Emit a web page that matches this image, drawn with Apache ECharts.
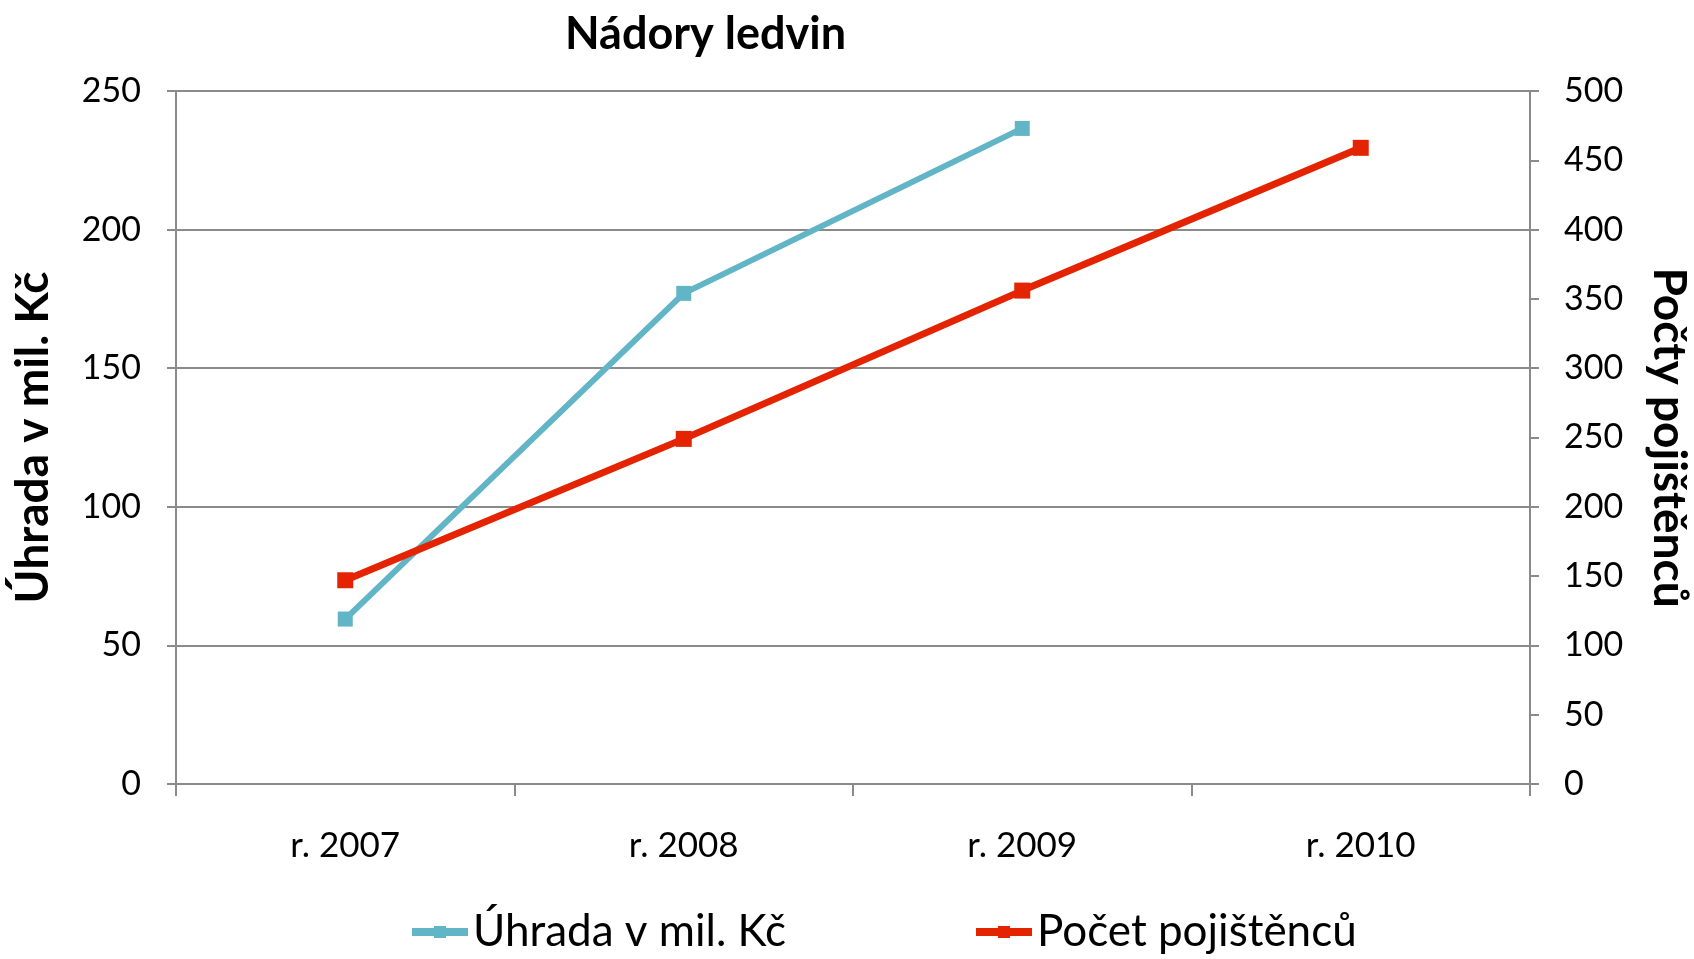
<!DOCTYPE html>
<html>
<head>
<meta charset="utf-8">
<title>Nádory ledvin</title>
<script src="https://cdn.jsdelivr.net/npm/echarts@6.0.0/dist/echarts.min.js"></script>
<style>
  html, body { margin: 0; padding: 0; background: #fff; }
  #chart { width: 1694px; height: 959px; }
</style>
</head>
<body>
<div id="chart"></div>
<script>
  // data
  var years = ["r. 2007", "r. 2008", "r. 2009", "r. 2010"];
  var uhrada = [59.5, 177, 236.5, null];     // mil. Kč, left axis
  var pojistenci = [147, 249, 356, 459];     // right axis
  var leftTicks = [0, 50, 100, 150, 200, 250];
  var rightTicks = [0, 50, 100, 150, 200, 250, 300, 350, 400, 450, 500];

  var FONT = "Lato, 'Open Sans', sans-serif";
  var GRAY = "#8a8a8a";
  var BLUE = "#62b5c6";
  var RED = "#e42400";

  var chart = echarts.init(document.getElementById("chart"));

  var legendBase = {
    top: 910,
    padding: 0,
    itemWidth: 56,
    itemHeight: 15,
    lineStyle: { width: 8 },
    textStyle: { fontFamily: FONT, fontSize: 44, color: "#000" }
  };

  chart.setOption({
    backgroundColor: "#fff",
    animation: false,
    textStyle: { fontFamily: FONT },
    title: {
      text: "Nádory ledvin",
      left: 560,
      top: 7,
      textStyle: { fontFamily: FONT, fontSize: 45, fontWeight: "bold", color: "#000" }
    },
    // two legends so each item sits where it is in the picture
    legend: [
      Object.assign({ data: ["Úhrada v mil. Kč"], left: 408 }, legendBase),
      Object.assign({ data: ["Počet pojištěnců"], left: 972 }, legendBase)
    ],
    grid: {
      left: 176,
      right: 164,
      top: 91,
      bottom: 175,
      outerBoundsMode: "none"
    },
    xAxis: {
      type: "category",
      data: years,
      boundaryGap: true,
      axisLine: { lineStyle: { color: GRAY, width: 2 } },
      axisTick: { show: true, length: 12, lineStyle: { color: GRAY, width: 2 } },
      axisLabel: { margin: 44, fontSize: 35, color: "#000", fontFamily: FONT },
      splitLine: { show: false }
    },
    yAxis: [
      {
        type: "value",
        min: leftTicks[0],
        max: leftTicks[leftTicks.length - 1],
        interval: 50,
        name: "Úhrada v mil. Kč",
        nameLocation: "middle",
        nameGap: 120,
        nameTextStyle: { fontFamily: FONT, fontSize: 46, fontWeight: "bold", color: "#000" },
        axisLine: { show: true, lineStyle: { color: GRAY, width: 2 } },
        axisTick: { show: true, length: 9, lineStyle: { color: GRAY, width: 2 } },
        axisLabel: { margin: 35, fontSize: 34, color: "#000", fontFamily: FONT },
        splitLine: { show: true, lineStyle: { color: GRAY, width: 2 } }
      },
      {
        type: "value",
        position: "right",
        min: rightTicks[0],
        max: rightTicks[rightTicks.length - 1],
        interval: 50,
        name: "Počty pojištěnců",
        nameLocation: "middle",
        nameGap: 116,
        nameRotate: -90,
        nameTextStyle: { fontFamily: FONT, fontSize: 46, fontWeight: "bold", color: "#000" },
        axisLine: { show: true, lineStyle: { color: GRAY, width: 2 } },
        axisTick: { show: true, length: 9, lineStyle: { color: GRAY, width: 2 } },
        axisLabel: { margin: 34, fontSize: 34, color: "#000", fontFamily: FONT },
        splitLine: { show: false }
      }
    ],
    series: [
      {
        name: "Úhrada v mil. Kč",
        type: "line",
        yAxisIndex: 0,
        data: uhrada,
        symbol: "rect",
        symbolSize: 15,
        showAllSymbol: true,
        itemStyle: { color: BLUE },
        lineStyle: { color: BLUE, width: 6 }
      },
      {
        name: "Počet pojištěnců",
        type: "line",
        yAxisIndex: 1,
        data: pojistenci,
        symbol: "rect",
        symbolSize: 16,
        showAllSymbol: true,
        itemStyle: { color: RED },
        lineStyle: { color: RED, width: 7 }
      }
    ]
  });
</script>
</body>
</html>
